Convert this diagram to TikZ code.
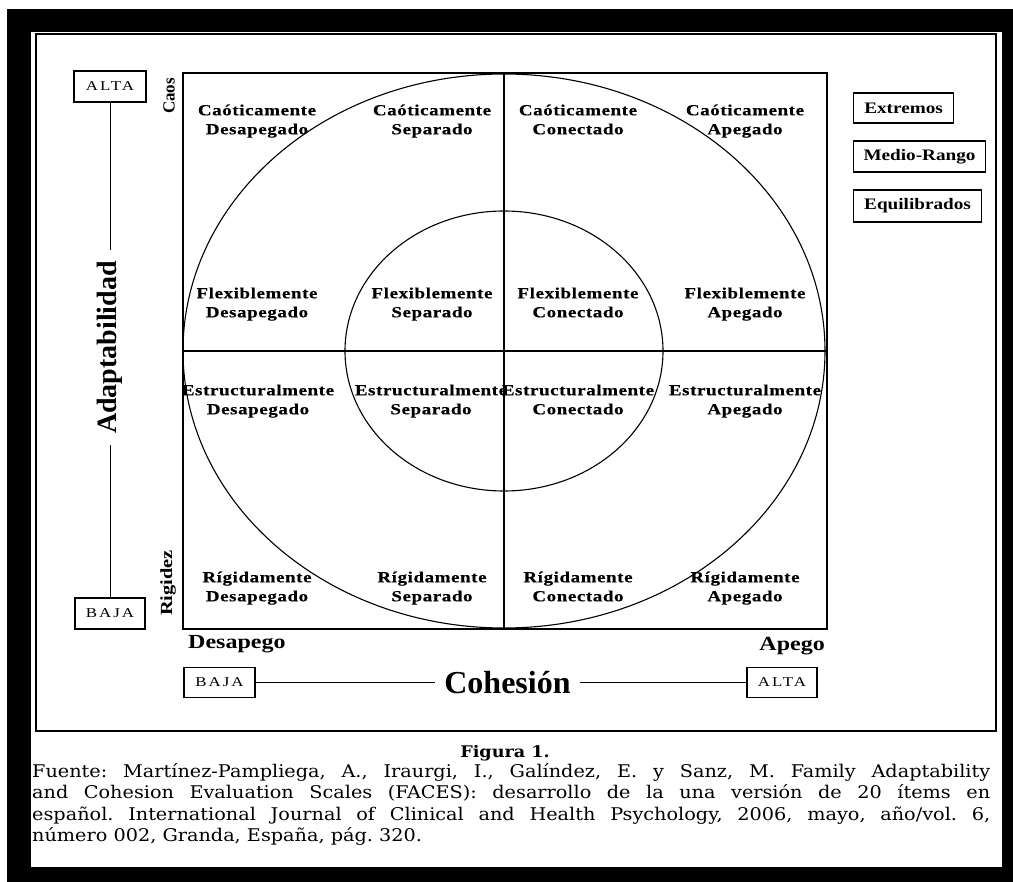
\documentclass[tikz,border=0pt]{standalone}
\usepackage{fontspec}
\setmainfont{Liberation Serif}
\newfontfamily\lbf{Liberation Serif}[FakeStretch=1.22,LetterSpace=4,FakeBold=0.4]
\newfontfamily\wbf{Liberation Serif}[FakeStretch=1.2]
\newfontfamily\sbf{Liberation Serif}[FakeStretch=1.25,LetterSpace=15]
\newfontfamily\capf{DejaVu Serif}[FakeStretch=1.1]
\newcommand{\twoline}[2]{\strut #1\\\strut #2}
\begin{document}
\begin{tikzpicture}[x=1pt,y=-1pt,
  thinline/.style={line width=1.1pt,black},
  cell/.style={align=center,inner sep=0pt,font=\lbf\bfseries\fontsize{15.5}{19}\selectfont},
  legbox/.style={draw,line width=1.1pt,anchor=west,inner sep=0pt,font=\wbf\bfseries\fontsize{16}{18}\selectfont},
  lvlbox/.style={draw,line width=1.1pt,inner sep=0pt,font=\sbf\fontsize{13.5}{15}\selectfont}]
\useasboundingbox (0,0) rectangle (1013,882);
% outer black frame
\fill[black] (7,9) rectangle (1013,882);
\fill[white] (31,32) rectangle (1002,867);
\draw[line width=1.5pt] (36,34) rectangle (996,731);
% main square, axes, ellipses
\draw[thinline] (183,73) rectangle (827,629);
\draw[thinline] (504,73) -- (504,629);
\draw[thinline] (183,351) -- (827,351);
\draw[thinline] (504,351) ellipse [x radius=321, y radius=277];
\draw[thinline] (504,351) ellipse [x radius=159, y radius=140];
% cells
\node[cell] (c11) at (257,121) {\twoline{Caóticamente}{Desapegado}};
\node[cell] (c12) at (432,121) {\twoline{Caóticamente}{Separado}};
\node[cell] (c13) at (578,121) {\twoline{Caóticamente}{Conectado}};
\node[cell] (c14) at (745,121) {\twoline{Caóticamente}{Apegado}};
\node[cell] (c21) at (257,304) {\twoline{Flexiblemente}{Desapegado}};
\node[cell] (c22) at (432,304) {\twoline{Flexiblemente}{Separado}};
\node[cell] (c23) at (578,304) {\twoline{Flexiblemente}{Conectado}};
\node[cell] (c24) at (745,304) {\twoline{Flexiblemente}{Apegado}};
\node[cell] (c31) at (258,401) {\twoline{Estructuralmente}{Desapegado}};
\node[cell] (c32) at (431,401) {\twoline{Estructuralmente}{Separado}};
\node[cell] (c33) at (578,401) {\twoline{Estructuralmente}{Conectado}};
\node[cell] (c34) at (745,401) {\twoline{Estructuralmente}{Apegado}};
\node[cell] (c41) at (257,588) {\twoline{Rígidamente}{Desapegado}};
\node[cell] (c42) at (432,588) {\twoline{Rígidamente}{Separado}};
\node[cell] (c43) at (578,588) {\twoline{Rígidamente}{Conectado}};
\node[cell] (c44) at (745,588) {\twoline{Rígidamente}{Apegado}};
% legend
\node[legbox,minimum width=100pt,minimum height=30pt] (ext) at (853,108) {Extremos};
\node[legbox,minimum width=132pt,minimum height=31pt] (med) at (853,156.5) {Medio-Rango};
\node[legbox,minimum width=128pt,minimum height=32pt] (equ) at (853,206) {Equilibrados};
% vertical axis
\node[lvlbox,minimum width=72pt,minimum height=31pt] (altaL) at (110,86.5) {ALTA};
\node[lvlbox,minimum width=70pt,minimum height=31pt] (bajaL) at (110,613.5) {BAJA};
\node[rotate=90,inner xsep=11pt,inner ysep=0pt,font=\bfseries\fontsize{28}{30}\selectfont] (adapt) at (110,347.5) {Adaptabilidad};
\draw[line width=1pt] (altaL.south) -- (adapt.east);
\draw[line width=1pt] (adapt.west) -- (bajaL.north);
\node[rotate=90,inner sep=0pt,font=\bfseries\fontsize{17}{18}\selectfont] (caos) at (169,96) {Caos};
\node[rotate=90,inner sep=0pt,font=\wbf\bfseries\fontsize{17}{18}\selectfont] (rig) at (168,583) {Rigidez};
% horizontal axis
\node[anchor=base west,inner sep=0pt,font=\wbf\bfseries\fontsize{20}{22}\selectfont] (desap) at (188,648) {Desapego};
\node[anchor=base east,inner sep=0pt,font=\wbf\bfseries\fontsize{20}{22}\selectfont] (apego) at (825,650) {Apego};
\node[lvlbox,minimum width=71pt,minimum height=30pt] (bajaB) at (219.5,682.5) {BAJA};
\node[lvlbox,minimum width=70pt,minimum height=30pt] (altaB) at (782,682.5) {ALTA};
\node[inner xsep=9pt,inner ysep=0pt,font=\bfseries\fontsize{32}{34}\selectfont] (coh) at (507.5,682.5) {Cohesión};
\draw[line width=1pt] (bajaB.east) -- (bajaB.east -| coh.west);
\draw[line width=1pt] (coh.east |- altaB.west) -- (altaB.west);
% caption
\node[anchor=base,inner sep=0pt,font=\capf\bfseries\fontsize{16}{18}\selectfont] (fig) at (505,757) {Figura 1.};
\node[anchor=north west,inner sep=0pt,text width=958pt,align=justify,
  font=\capf\fontsize{17.5}{21.5}\selectfont] (cap) at (32,763)
  {\frenchspacing\tolerance=10000 \hbadness=10000 Fuente: Martínez-Pampliega, A., Iraurgi, I., Galíndez, E. y Sanz, M. Family Adaptability\linebreak
   and Cohesion Evaluation Scales (FACES): desarrollo de la una versión de 20 ítems en\linebreak
   español. International Journal of Clinical and Health Psychology, 2006, mayo, año/vol. 6,\linebreak
   número 002, Granda, España, pág. 320.};
\end{tikzpicture}
\end{document}
